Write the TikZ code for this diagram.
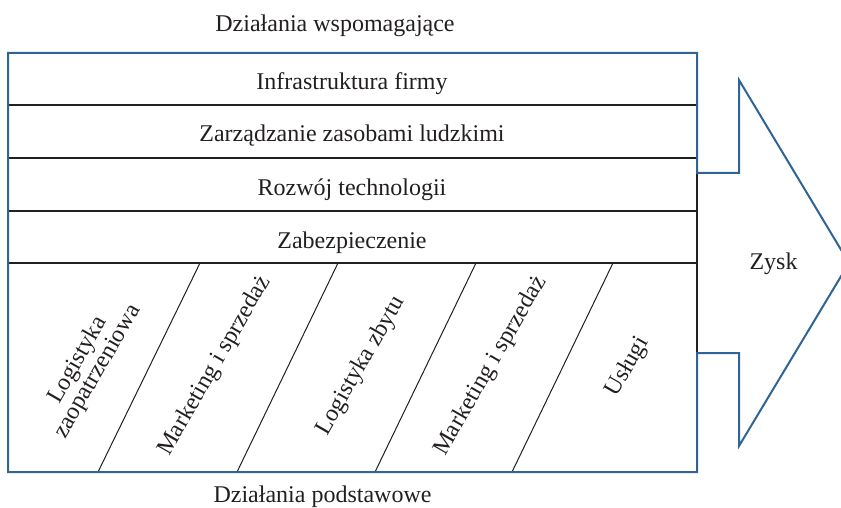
\documentclass[tikz,border=0pt]{standalone}
\usepackage{fontspec}
\setmainfont{Liberation Serif}
\definecolor{edgeblue}{RGB}{46,100,150}
\definecolor{inkline}{RGB}{35,31,32}
\begin{document}
\begin{tikzpicture}[x=1pt,y=-1pt,
  txt/.style={font=\fontsize{24}{23}\selectfont, inner sep=0pt, text=inkline},
  rowtxt/.style={txt, anchor=base},
  rottxt/.style={txt, rotate=60, align=center, anchor=center},
  divider/.style={draw=inkline, line width=1.2pt},
  outline/.style={draw=edgeblue, line width=2pt, line join=miter}]
\useasboundingbox (0,0) rectangle (841,508);
% corners
\coordinate (tl) at (8,53);
\coordinate (tr) at (697,53);
\coordinate (bl) at (8,472);
\coordinate (br) at (697,472);
\coordinate (ru) at (697,173);
\coordinate (rd) at (697,353);
% row dividers
\foreach \y/\n in {105/a,158/b,211/c,263/d}{
  \coordinate (L\n) at (8,\y);
  \coordinate (R\n) at (697,\y);
  \draw[divider] (L\n) -- (R\n);
}
\draw[divider] (ru) -- (rd);
% diagonal dividers
\foreach \t/\b/\n in {200/98/1,338/237/2,476/375/3,613/512/4}{
  \coordinate (T\n) at (\t,263);
  \coordinate (B\n) at (\b,472);
  \draw[divider, line width=1pt] (T\n) -- (B\n);
}
% outline with arrow
\draw[outline] (tl) -- (tr) -- (ru) -- (739,173) -- (739,80) -- (849,263)
  -- (739,446) -- (739,353) -- (rd) -- (br) -- (bl) -- cycle;
% texts
\node[rowtxt] (sup) at (335,31.5) {Działania wspomagające};
\node[rowtxt] (r1) at (352,90) {Infrastruktura firmy};
\node[rowtxt] (r2) at (352,142) {Zarządzanie zasobami ludzkimi};
\node[rowtxt] (r3) at (352,195.5) {Rozwój technologii};
\node[rowtxt] (r4) at (352,248) {Zabezpieczenie};
\node[rowtxt] (prim) at (322.5,502.5) {Działania podstawowe};
\node[rowtxt] (zysk) at (773.5,269) {Zysk};
\node[rottxt] (p1) at (88,366) {Logistyka\\zaopatrzeniowa};
\node[rottxt] (p2) at (215,366) {Marketing i sprzedaż};
\node[rottxt] (p3) at (361,366) {Logistyka zbytu};
\node[rottxt] (p4) at (491,366) {Marketing i sprzedaż};
\node[rottxt] (p5) at (628,367) {Usługi};
\end{tikzpicture}
\end{document}
